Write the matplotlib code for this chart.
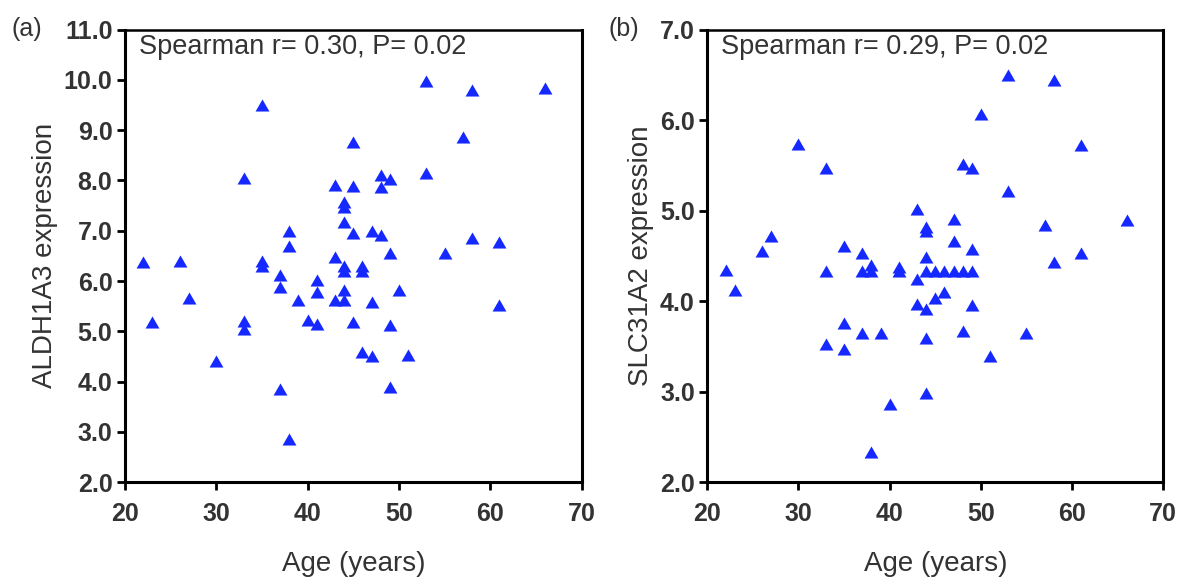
import matplotlib
matplotlib.use("Agg")
from matplotlib import pyplot as plt

# (a) ALDH1A3 vs age
age_a = [22, 23, 26, 27, 30, 33, 33, 33, 35, 35, 35, 37, 37, 37, 38, 38, 38, 39, 40,
         41, 41, 41, 43, 43, 43, 44, 44, 44, 44, 44, 44, 44, 45, 45, 45, 45, 46, 46, 46,
         47, 47, 47, 48, 48, 48, 49, 49, 49, 49, 50, 51, 53, 53, 55, 57, 58, 58, 61, 61, 66]
aldh1a3 = [6.37, 5.18, 6.4, 5.66, 4.42, 8.05, 5.2, 5.05, 9.5, 6.4, 6.3, 6.12, 5.88, 3.86,
           7.0, 6.7, 2.87, 5.62, 5.22, 6.02, 5.78, 5.15, 7.9, 6.48, 5.62, 7.57, 7.47, 7.18,
           6.3, 6.2, 5.82, 5.62, 8.77, 7.88, 6.95, 5.19, 6.3, 6.2, 4.6, 7.0, 5.58, 4.52,
           8.1, 7.87, 6.92, 8.03, 6.55, 5.12, 3.9, 5.82, 4.53, 9.98, 8.15, 6.55, 8.87, 9.8,
           6.85, 6.78, 5.52, 9.83]

# (b) SLC31A2 vs age
age_b = [22, 23, 26, 27, 30, 33, 33, 33, 35, 35, 35, 37, 37, 37, 38, 38, 38, 39, 40,
         41, 41, 43, 43, 43, 44, 44, 44, 44, 44, 44, 44, 45, 45, 46, 46, 47, 47, 47,
         48, 48, 48, 49, 49, 49, 49, 50, 51, 53, 53, 55, 57, 58, 58, 61, 61, 66]
slc31a2 = [4.34, 4.12, 4.55, 4.72, 5.74, 5.47, 4.33, 3.53, 4.61, 3.76, 3.47, 4.53, 4.33,
           3.65, 4.4, 4.33, 2.33, 3.65, 2.87, 4.38, 4.33, 5.02, 4.25, 3.97, 4.82, 4.78,
           4.49, 4.33, 3.91, 3.59, 2.99, 4.33, 4.04, 4.33, 4.1, 4.91, 4.66, 4.33, 5.52,
           4.33, 3.67, 5.47, 4.58, 4.33, 3.96, 6.07, 3.39, 6.5, 5.22, 3.65, 4.84, 6.44,
           4.43, 5.73, 4.53, 4.9]

x_ticks = [20, 30, 40, 50, 60, 70]
yticks_a = [2.0, 3.0, 4.0, 5.0, 6.0, 7.0, 8.0, 9.0, 10.0, 11.0]
yticks_b = [2.0, 3.0, 4.0, 5.0, 6.0, 7.0]

plt.rcParams["font.family"] = ["Liberation Sans", "DejaVu Sans"]
text_color = "#333333"
tri = [(0, 0.87), (-1, -0.87), (1, -0.87)]


def draw_panel(ax, x, y, yticks, ylabel, stat_text):
    ax.plot(x, y, linestyle="none", marker=tri, markersize=10,
            color="#1428ff", markeredgewidth=0)
    ax.set_xlim(20, 70)
    ax.set_ylim(yticks[0], yticks[-1])
    ax.set_xticks(x_ticks)
    ax.set_yticks(yticks)
    ax.set_yticklabels([f"{v:.1f}" for v in yticks])
    for side in ["left", "bottom", "right"]:
        ax.spines[side].set_linewidth(2.2)
    ax.spines["top"].set_linewidth(1.8)
    ax.tick_params(direction="out", length=6, width=2, labelsize=18,
                   labelcolor=text_color, pad=3)
    ax.tick_params(axis="x", pad=8)
    for lab in ax.get_xticklabels() + ax.get_yticklabels():
        lab.set_fontweight("bold")
    ax.set_xlabel("Age (years)", fontsize=20, color=text_color, labelpad=18)
    ax.set_ylabel(ylabel, fontsize=20, color=text_color, labelpad=4)
    ax.text(0.03, 0.99, stat_text, transform=ax.transAxes, ha="left", va="top",
            fontsize=19.5, color=text_color)


fig = plt.figure(figsize=(11.8, 5.79), dpi=100)
ax1 = fig.add_axes([0.1059, 0.167, 0.387, 0.782])
ax2 = fig.add_axes([0.5994, 0.167, 0.3864, 0.782])

draw_panel(ax1, age_a, aldh1a3, yticks_a, "ALDH1A3 expression",
           "Spearman r= 0.30, P= 0.02")
draw_panel(ax2, age_b, slc31a2, yticks_b, "SLC31A2 expression",
           "Spearman r= 0.29, P= 0.02")

fig.text(0.010, 0.938, "(a)", fontsize=18, color=text_color)
fig.text(0.516, 0.938, "(b)", fontsize=18, color=text_color)

fig.savefig("out.png", dpi=100)
